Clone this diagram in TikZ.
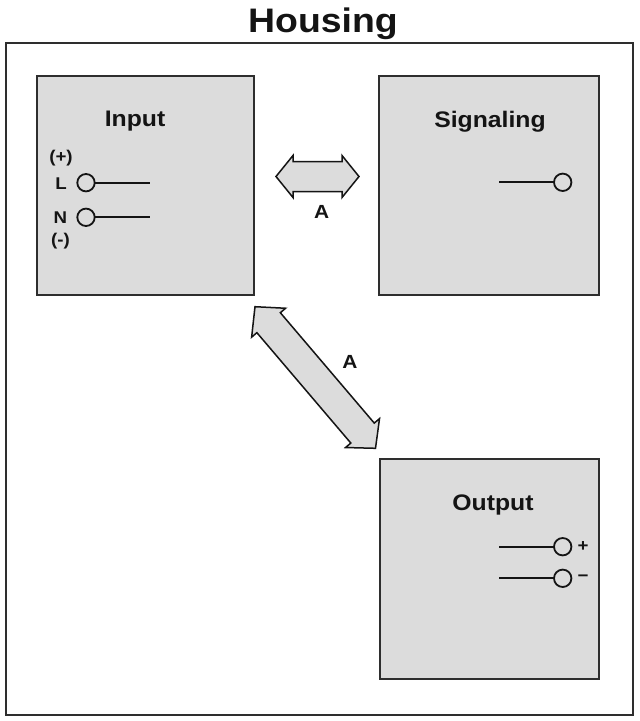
\documentclass[tikz,border=0pt]{standalone}
\usepackage{fontspec}
\setmainfont{Liberation Sans}[FakeStretch=1.1]
\usetikzlibrary{calc}
\definecolor{boxgray}{HTML}{DCDCDC}
\definecolor{edgecol}{HTML}{2E2E2E}
\definecolor{inkcol}{HTML}{141414}
\tikzset{
  housingbox/.style={draw=edgecol, line width=2.2pt, fill=white, inner sep=0pt, outer sep=0pt, anchor=north west},
  unitbox/.style={draw=edgecol, line width=1.8pt, fill=boxgray, inner sep=0pt, outer sep=0pt, anchor=north west},
  titletext/.style={font=\fontsize{34}{40}\selectfont\bfseries, text=inkcol, inner sep=0pt, anchor=base},
  unittext/.style={font=\fontsize{22.5}{26}\selectfont\bfseries, text=inkcol, inner sep=0pt, anchor=base},
  pintext/.style={font=\fontsize{17}{20}\selectfont\bfseries, text=inkcol, inner sep=0pt},
  atext/.style={font=\fontsize{19}{22}\selectfont\bfseries, text=inkcol, inner sep=0pt, anchor=base},
  terminal/.style={circle, draw=inkcol, line width=1.8pt, fill=boxgray, minimum size=17.4pt, inner sep=0pt, outer sep=0pt},
  wire/.style={draw=inkcol, line width=1.8pt},
  arrowshape/.style={draw=inkcol, line width=1.5pt, fill=boxgray, line join=miter}
}
\begin{document}
\begin{tikzpicture}[x=1pt,y=-1pt]
\useasboundingbox[fill=white] (0,0) rectangle (640,721);

% housing
\node[housingbox, minimum width=626.7pt, minimum height=672pt] (housing) at (6.3,43) {};
\node[titletext] (title) at (323,32) {Housing};

% units
\node[unitbox, minimum width=217pt, minimum height=219pt] (input) at (37,76) {};
\node[unitbox, minimum width=220pt, minimum height=219pt] (signaling) at (379,76) {};
\node[unitbox, minimum width=219pt, minimum height=220pt] (output) at (380,459) {};

\node[unittext] (inputlbl) at (135,126.7) {Input};
\node[unittext] (signallbl) at (490,127.3) {Signaling};
\node[unittext] (outputlbl) at (493,510) {Output};

% input terminals
\node[pintext] (plus) at (61,158) {(+)};
\node[pintext, anchor=base] (Llbl) at (61,189) {L};
\node[pintext, anchor=base] (Nlbl) at (60.5,223) {N};
\node[pintext] (minus) at (60.5,241) {(-)};
\node[terminal] (Lpin) at (86,182.7) {};
\node[terminal] (Npin) at (86,217.3) {};
\coordinate (Lend) at (150,182.7);
\coordinate (Nend) at (150,217.3);
\draw[wire] (Lpin.east) -- (Lend);
\draw[wire] (Npin.east) -- (Nend);

% signaling terminal
\node[terminal] (Spin) at (562.7,182.3) {};
\coordinate (Send) at (499.3,182.3);
\draw[wire] (Spin.west) -- (Send);

% output terminals
\node[terminal] (Ppin) at (562.7,546.7) {};
\node[terminal] (Mpin) at (562.7,578.3) {};
\coordinate (Pend) at (499.3,546.7);
\coordinate (Mend) at (499.3,578.3);
\draw[wire] (Ppin.west) -- (Pend);
\draw[wire] (Mpin.west) -- (Mend);
\node[pintext] (pluslbl) at (583,546.7) {+};
\node[pintext] (minuslbl) at (583,578.3) {−};

% horizontal double arrow (input <-> signaling)
\coordinate (ha) at (276,176.5);
\coordinate (hb) at (359,176.5);
\coordinate (hab) at ($(ha)!17pt!(hb)$);
\coordinate (hbb) at ($(hb)!17pt!(ha)$);
\draw[arrowshape] (ha) -- ($(hab)!21pt!90:(hb)$) -- ($(hab)!15pt!90:(hb)$)
  -- ($(hbb)!15pt!-90:(ha)$) -- ($(hbb)!21pt!-90:(ha)$) -- (hb)
  -- ($(hbb)!21pt!90:(ha)$) -- ($(hbb)!15pt!90:(ha)$)
  -- ($(hab)!15pt!-90:(hb)$) -- ($(hab)!21pt!-90:(hb)$) -- cycle;
\node[atext] (alabel1) at (321.7,218.3) {A};

% diagonal double arrow (input <-> output)
\coordinate (da) at (255,306.7);
\coordinate (db) at (375.5,448.3);
\coordinate (dab) at ($(da)!21pt!(db)$);
\coordinate (dbb) at ($(db)!20pt!(da)$);
\draw[arrowshape] (da) -- ($(dab)!22.3pt!90:(db)$) -- ($(dab)!15.4pt!90:(db)$)
  -- ($(dbb)!15.4pt!-90:(da)$) -- ($(dbb)!22.3pt!-90:(da)$) -- (db)
  -- ($(dbb)!22.3pt!90:(da)$) -- ($(dbb)!15.4pt!90:(da)$)
  -- ($(dab)!15.4pt!-90:(db)$) -- ($(dab)!22.3pt!-90:(db)$) -- cycle;
\node[atext] (alabel2) at (350,368.3) {A};
\end{tikzpicture}
\end{document}
